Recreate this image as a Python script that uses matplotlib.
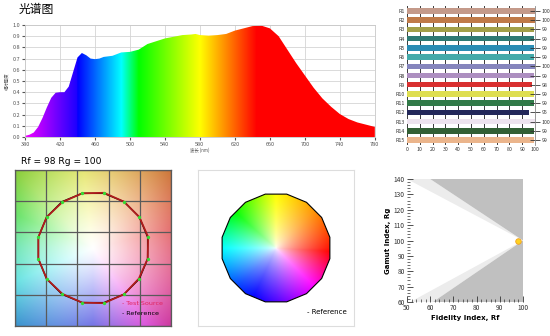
import numpy as np
import matplotlib
matplotlib.use('Agg')
import matplotlib.pyplot as plt
from matplotlib.colors import hsv_to_rgb
from matplotlib.patches import Polygon

plt.rcParams['font.family'] = ['Noto Sans CJK SC', 'DejaVu Sans']

# spectrum
wavelength = [380, 385, 390, 395, 400, 405, 410, 415, 420, 425, 430, 435, 440, 445, 450,
              455, 460, 465, 470, 480, 490, 500, 510, 520, 530, 540, 550, 560, 570, 575,
              580, 590, 600, 610, 620, 630, 640, 650, 660, 670, 680, 690, 700, 710, 720,
              730, 740, 750, 760, 770, 780]
intensity = [0.01, 0.02, 0.04, 0.09, 0.17, 0.265, 0.35, 0.395, 0.40, 0.40, 0.45, 0.58, 0.71, 0.75, 0.73,
             0.70, 0.695, 0.70, 0.715, 0.725, 0.755, 0.76, 0.78, 0.83, 0.855, 0.88, 0.895, 0.91, 0.915, 0.92,
             0.91, 0.905, 0.91, 0.92, 0.95, 0.97, 0.99, 0.995, 0.97, 0.90, 0.78, 0.66, 0.55, 0.44, 0.345,
             0.27, 0.205, 0.16, 0.13, 0.11, 0.09]

# CRI bars
cri_labels = ['R1', 'R2', 'R3', 'R4', 'R5', 'R6', 'R7', 'R8', 'R9', 'R10', 'R11', 'R12', 'R13', 'R14', 'R15']
cri_values = [100, 100, 99, 99, 99, 99, 100, 99, 98, 99, 99, 95, 100, 99, 99]
cri_colors = ['#c49a8a', '#c07a48', '#a3a048', '#2e7a74', '#2a8cb4', '#44aaaa', '#8585bd', '#ad8fc0',
              '#d93030', '#dede50', '#317a48', '#23285a', '#ede3ee', '#325f34', '#ebb58c']

# TM-30
rf, rg = 98, 100
test_radius = [1.01, 1.0, 1.0, 1.01, 1.0, 0.99, 1.0, 1.0, 1.0, 1.0, 0.99, 1.0, 1.01, 1.0, 0.99, 1.0]
ref_radius = [1.0] * 16


def wl_rgb(w):
    if w < 440:
        return ((440 - w) / 60 * 0.85 + 0.1, 0.0, 1.0)
    if w < 490:
        return (0.0, (w - 440) / 50, 1.0)
    if w < 510:
        return (0.0, 1.0, (510 - w) / 20)
    if w < 580:
        return ((w - 510) / 70, 1.0, 0.0)
    if w < 645:
        return (1.0, (645 - w) / 65, 0.0)
    return (1.0, 0.0, 0.0)


def hue_image(lim, n, hue_pts, sat_fn, val_fn):
    xs = np.linspace(-lim, lim, n)
    X, Y = np.meshgrid(xs, xs)
    theta = np.degrees(np.arctan2(Y, X)) % 360
    r = np.hypot(X, Y)
    h = (np.interp(theta, [0, 45, 90, 135, 180, 225, 270, 315, 360], hue_pts) % 360) / 360
    hsv = np.dstack([h, sat_fn(r), val_fn(r)])
    return hsv_to_rgb(np.clip(hsv, 0, 1))


fig = plt.figure(figsize=(5.5, 3.36), dpi=100)

# ---- spectrum
ax = fig.add_axes([0.0455, 0.5923, 0.636, 0.3333])
grad = np.array([wl_rgb(w) for w in np.arange(380, 781)])[None, :, :]
im = ax.imshow(grad, extent=[380, 780, 0, 1], aspect='auto', zorder=2)
verts = list(zip(wavelength, intensity)) + [(780, 0), (380, 0)]
clip = Polygon(verts, closed=True, facecolor='none', edgecolor='none', transform=ax.transData)
ax.add_patch(clip)
im.set_clip_path(clip)
ax.set_xlim(380, 780)
ax.set_ylim(0, 1)
ax.set_xticks(range(380, 781, 40))
ax.set_yticks(np.arange(0, 1.01, 0.1))
ax.set_yticklabels(['%.1f' % v for v in np.arange(0, 1.01, 0.1)])
ax.grid(color='#d4d4d4', lw=0.6)
ax.set_axisbelow(True)
ax.tick_params(labelsize=4, length=2, colors='#555', pad=1.5)
for s in ax.spines.values():
    s.set_color('#c8c8c8')
    s.set_linewidth(0.6)
ax.set_xlabel('波长 (nm)', fontsize=3.2, labelpad=0.5, color='#555')
ax.set_ylabel('相对强度', fontsize=3.2, labelpad=2, color='#555')
fig.text(0.033, 0.972, '光谱图', fontsize=8.5, va='center')

# ---- CRI bars
bx = fig.add_axes([0.740, 0.5696, 0.2327, 0.4113])
ypos = np.arange(len(cri_labels))
bx.barh(ypos, cri_values, height=0.6, color=cri_colors, zorder=2)
bx.set_xlim(0, 100)
bx.set_ylim(14.5, -0.5)
bx.set_xticks(range(0, 101, 10))
bx.set_yticks(ypos)
bx.set_yticklabels(cri_labels)
bx.grid(axis='x', color='#3a3a3a', lw=0.7, zorder=0)
bx.set_axisbelow(True)
bx.tick_params(labelsize=3.8, length=0, pad=1.5, colors='#333')
for s in bx.spines.values():
    s.set_visible(False)
bx2 = bx.twinx()
bx2.set_ylim(14.5, -0.5)
bx2.set_yticks(ypos)
bx2.set_yticklabels([str(v) for v in cri_values])
bx2.tick_params(labelsize=3.8, length=7, direction='inout', pad=1.5, width=0.6, colors='#333')
for k, s in bx2.spines.items():
    s.set_visible(k == 'right')
bx2.spines['right'].set_color('#888')
bx2.spines['right'].set_linewidth(0.6)

# ---- TM-30 colour vector graphic
L = 1.4
cx = fig.add_axes([0.0273, 0.0298, 0.2836, 0.4643])
bg = hue_image(L, 300, [-10, 25, 55, 88, 155, 203, 240, 318, 350],
               lambda r: 0.72 * np.clip(r / 1.98, 0, 1) ** 1.1,
               lambda r: 1 - 0.2 * np.clip(r / 1.98, 0, 1) ** 2)
cx.imshow(bg, extent=[-L, L, -L, L], origin='lower', zorder=0)
for g in np.linspace(-L, L, 6):
    cx.axvline(g, color='#5a5a5a', lw=0.9, zorder=1)
    cx.axhline(g, color='#5a5a5a', lw=0.9, zorder=1)
ang = np.radians(11.25 + 22.5 * np.arange(16))
rr = np.array(ref_radius)
tr = np.array(test_radius)
cx.plot(np.append(rr * np.cos(ang), rr[0] * np.cos(ang[0])),
        np.append(rr * np.sin(ang), rr[0] * np.sin(ang[0])), color='black', lw=1, zorder=2)
cx.plot(np.append(tr * np.cos(ang), tr[0] * np.cos(ang[0])),
        np.append(tr * np.sin(ang), tr[0] * np.sin(ang[0])), color='#b01c1c', lw=1.3, zorder=3)
cx.plot(tr * np.cos(ang), tr * np.sin(ang), 'o', color='#33dd33', ms=2.4, mec='none', zorder=4)
cx.text(0.52, -1.0, '- Test Source', color='#e0245e', fontsize=4.6, va='center', family='DejaVu Sans')
cx.text(0.52, -1.17, '- Reference', color='black', fontsize=4.6, va='center', family='DejaVu Sans')
cx.set_xlim(-L, L)
cx.set_ylim(-L, L)
cx.set_xticks([])
cx.set_yticks([])
for s in cx.spines.values():
    s.set_color('#5a5a5a')
    s.set_linewidth(0.9)
fig.text(0.038, 0.518, 'Rf = %d Rg = %d' % (rf, rg), fontsize=6.6, va='center', family='DejaVu Sans')

# ---- reference wheel
W = 1.42
wx = fig.add_axes([0.36, 0.0298, 0.2836, 0.4643])
wheel = hue_image(1.0, 300, [5, 35, 60, 115, 180, 225, 258, 300, 365],
                  lambda r: np.clip(r, 0, 1) ** 0.65,
                  lambda r: np.ones_like(r))
wim = wx.imshow(wheel, extent=[-1, 1, -1, 1], origin='lower', zorder=1)
poly = Polygon(np.column_stack([np.cos(ang), np.sin(ang)]), closed=True,
               facecolor='none', edgecolor='black', lw=0.8, zorder=2)
wx.add_patch(poly)
wim.set_clip_path(poly)
wx.text(0.565, -1.17, '- Reference', fontsize=5, va='center', family='DejaVu Sans')
wx.set_xlim(-W, W)
wx.set_ylim(-W, W)
wx.set_xticks([])
wx.set_yticks([])
for s in wx.spines.values():
    s.set_color('#dddddd')
    s.set_linewidth(0.8)

# ---- Rf / Rg chart
rx = fig.add_axes([0.74, 0.1012, 0.2109, 0.366])
rx.add_patch(Polygon([(50, 140), (100, 100), (60, 140)], closed=True, color='#ececec', lw=0, zorder=0))
rx.add_patch(Polygon([(60, 140), (100, 100), (100, 140)], closed=True, color='#c0c0c0', lw=0, zorder=0))
rx.add_patch(Polygon([(51.4, 60), (100, 100), (61.2, 60)], closed=True, color='#ececec', lw=0, zorder=0))
rx.add_patch(Polygon([(61.2, 60), (100, 100), (100, 60)], closed=True, color='#c0c0c0', lw=0, zorder=0))
rx.plot([rf], [rg], 'o', color='#ffd21f', mec='#f0a020', mew=0.6, ms=4, zorder=3)
rx.set_xlim(50, 100)
rx.set_ylim(60, 140)
rx.set_xticks(range(50, 101, 10))
rx.set_yticks(range(60, 141, 10))
rx.set_xticks(range(50, 101, 2), minor=True)
rx.set_yticks(range(60, 141, 2), minor=True)
rx.tick_params(which='major', direction='in', length=4, width=0.6, labelsize=4.8, pad=1.5, colors='#333')
rx.tick_params(which='minor', direction='in', length=2, width=0.5, colors='#333')
for k, s in rx.spines.items():
    s.set_visible(False)
rx.set_xlabel('Fidelity Index, Rf', fontsize=5, fontweight='bold', labelpad=2, family='DejaVu Sans')
rx.set_ylabel('Gamut Index, Rg', fontsize=5, fontweight='bold', labelpad=2, family='DejaVu Sans')

fig.savefig('out.png', dpi=100)
